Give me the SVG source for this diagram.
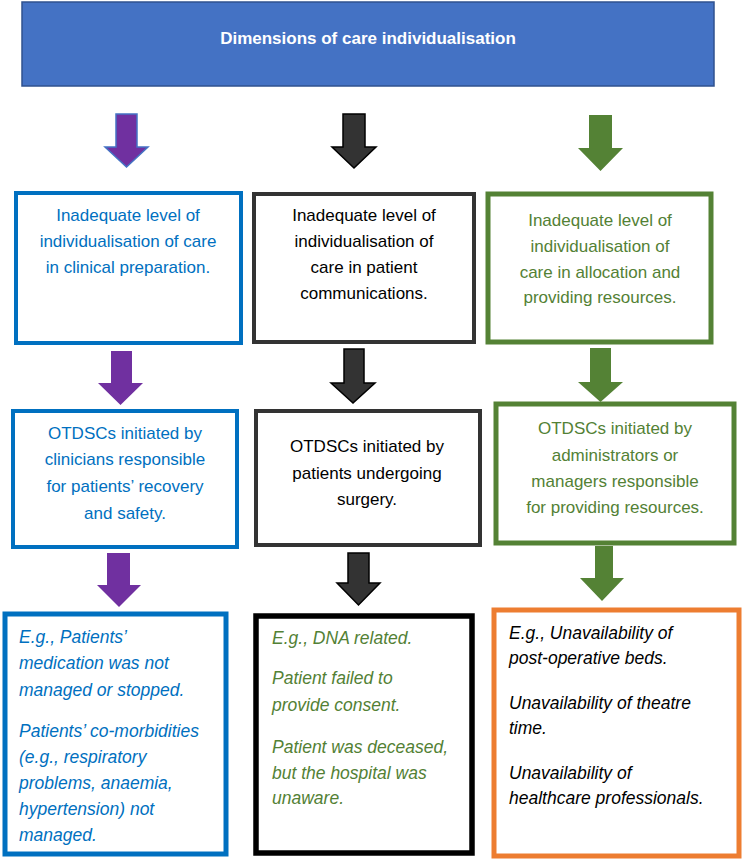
<svg xmlns="http://www.w3.org/2000/svg" width="744" height="861" viewBox="0 0 744 861">
<style>
text{font-family:"Liberation Sans",Arial,sans-serif;font-size:17px}
.c{text-anchor:middle}
.i{font-style:italic;font-size:17.5px}
.blue{fill:#0070C0}
.grn{fill:#538135}
.blk{fill:#000}
.bbox{fill:#fff;stroke:#0070C0;stroke-width:4}
.kbox{fill:#fff;stroke:#333;stroke-width:4}
.gbox{fill:#fff;stroke:#548235;stroke-width:5}
.pa{fill:#7030A0}
.ka{fill:#333;stroke:#000;stroke-width:1.5}
.ga{fill:#548235}
</style>
<rect width="744" height="861" fill="#fff"/>
<g id="header">
<rect x="22" y="2" width="692" height="84" fill="#4472C4" stroke="#2F528F" stroke-width="1.5"/>
<text x="368" y="44" class="c" style="font-weight:bold;font-size:17px" fill="#fff">Dimensions of care individualisation</text>
</g>
<g id="connectors">
<polygon class="pa" stroke="#4472C4" stroke-width="1.5" points="116,114 137,114 137,147 148,147 126.5,167 105,147 116,147"/>
<polygon class="ka" points="343,114 365,114 365,147 376,147 354,168 332,147 343,147"/>
<polygon class="ga" points="589,115 612,115 612,148 623,148 600.5,171 578,148 589,148"/>
<polygon class="pa" points="111,351 132,351 132,383 143,383 120.5,405 98,383 111,383"/>
<polygon class="ka" points="344,349 364,349 364,383 375,383 353,403 331,383 344,383"/>
<polygon class="ga" points="590,348 611,348 611,382 623,382 600.5,402 578,382 590,382"/>
<polygon class="pa" points="107,553 130,553 130,585 141,585 119,607 97,585 107,585"/>
<polygon class="ka" points="348,553 369,553 369,583 380,583 358.5,605 337,583 348,583"/>
<polygon class="ga" points="595,546 613,546 613,578 624,578 602,601 580,578 595,578"/>
</g>
<g id="box1a">
<rect class="bbox" x="16" y="193" width="225" height="150"/>
<text class="c blue" x="128" y="221">Inadequate level of</text>
<text class="c blue" x="128" y="247">individualisation of care</text>
<text class="c blue" x="128" y="273">in clinical preparation.</text>
</g>
<g id="box1b">
<rect class="kbox" x="254" y="194" width="220" height="148"/>
<text class="c blk" x="364" y="221">Inadequate level of</text>
<text class="c blk" x="364" y="247">individualisation of</text>
<text class="c blk" x="364" y="273">care in patient</text>
<text class="c blk" x="364" y="299">communications.</text>
</g>
<g id="box1c">
<rect class="gbox" x="488" y="194" width="223" height="148"/>
<text class="c grn" x="600" y="226">Inadequate level of</text>
<text class="c grn" x="600" y="252">individualisation of</text>
<text class="c grn" x="600" y="278">care in allocation and</text>
<text class="c grn" x="600" y="303">providing resources.</text>
</g>
<g id="box2a">
<rect class="bbox" x="13" y="411" width="224" height="136"/>
<text class="c blue" x="125" y="439">OTDSCs initiated by</text>
<text class="c blue" x="125" y="465">clinicians responsible</text>
<text class="c blue" x="125" y="492">for patients’ recovery</text>
<text class="c blue" x="125" y="519">and safety.</text>
</g>
<g id="box2b">
<rect class="kbox" x="256" y="411" width="224" height="134"/>
<text class="c blk" x="367" y="452">OTDSCs initiated by</text>
<text class="c blk" x="367" y="479">patients undergoing</text>
<text class="c blk" x="367" y="505">surgery.</text>
</g>
<g id="box2c">
<rect class="gbox" x="496" y="404" width="238" height="139"/>
<text class="c grn" x="615" y="434">OTDSCs initiated by</text>
<text class="c grn" x="615" y="461">administrators or</text>
<text class="c grn" x="615" y="487">managers responsible</text>
<text class="c grn" x="615" y="513">for providing resources.</text>
</g>
<g id="box3a">
<rect x="5" y="614" width="221" height="240" fill="#fff" stroke="#0070C0" stroke-width="5"/>
<text class="i blue" x="19" y="643">E.g., Patients’</text>
<text class="i blue" x="19" y="669">medication was not</text>
<text class="i blue" x="19" y="696">managed or stopped.</text>
<text class="i blue" x="19" y="737">Patients’ co-morbidities</text>
<text class="i blue" x="19" y="763">(e.g., respiratory</text>
<text class="i blue" x="19" y="789">problems, anaemia,</text>
<text class="i blue" x="19" y="815">hypertension) not</text>
<text class="i blue" x="19" y="841">managed.</text>
</g>
<g id="box3b">
<rect x="256" y="616" width="216" height="237" fill="#fff" stroke="#000" stroke-width="5.5"/>
<text class="i grn" x="272" y="644">E.g., DNA related.</text>
<text class="i grn" x="272" y="684">Patient failed to</text>
<text class="i grn" x="272" y="711">provide consent.</text>
<text class="i grn" x="272" y="753">Patient was deceased,</text>
<text class="i grn" x="272" y="779">but the hospital was</text>
<text class="i grn" x="272" y="804">unaware.</text>
</g>
<g id="box3c">
<rect x="494" y="610" width="245" height="246" fill="#fff" stroke="#ED7D31" stroke-width="5"/>
<text class="i blk" x="509" y="639">E.g., Unavailability of</text>
<text class="i blk" x="509" y="664">post-operative beds.</text>
<text class="i blk" x="509" y="709">Unavailability of theatre</text>
<text class="i blk" x="509" y="734">time.</text>
<text class="i blk" x="509" y="779">Unavailability of</text>
<text class="i blk" x="509" y="804">healthcare professionals.</text>
</g>
</svg>
